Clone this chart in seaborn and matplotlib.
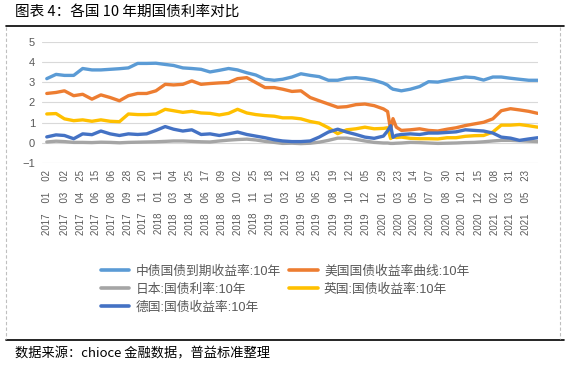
import pandas as pd
import matplotlib.pyplot as plt
import matplotlib.lines as mlines
import seaborn as sns

# === Data ===
dates = [
  "2017-01-01", "2017-02-01", "2017-03-01", "2017-04-01", "2017-05-01", "2017-06-01",
  "2017-07-01", "2017-08-01", "2017-09-01", "2017-10-01", "2017-11-01", "2017-12-01",
  "2018-01-01", "2018-02-01", "2018-03-01", "2018-04-01", "2018-05-01", "2018-06-01",
  "2018-07-01", "2018-08-01", "2018-09-01", "2018-10-01", "2018-11-01", "2018-12-01",
  "2019-01-01", "2019-02-01", "2019-03-01", "2019-04-01", "2019-05-01", "2019-06-01",
  "2019-07-01", "2019-08-01", "2019-09-01", "2019-10-01", "2019-11-01", "2019-12-01",
  "2020-01-01", "2020-02-01", "2020-02-15", "2020-02-25", "2020-03-04", "2020-03-15",
  "2020-04-01", "2020-05-01", "2020-06-01", "2020-07-01", "2020-08-01", "2020-09-01",
  "2020-10-01", "2020-11-01", "2020-12-01", "2021-01-01", "2021-02-01", "2021-03-01",
  "2021-04-01", "2021-05-01", "2021-06-01", "2021-07-01",
]

china = [
  3.17, 3.38, 3.33, 3.33, 3.67, 3.60, 3.60, 3.63, 3.66, 3.70, 3.92, 3.92,
  3.93, 3.87, 3.82, 3.70, 3.67, 3.63, 3.50, 3.58, 3.67, 3.60, 3.46, 3.35,
  3.14, 3.09, 3.14, 3.25, 3.41, 3.33, 3.27, 3.09, 3.09, 3.19, 3.22, 3.17,
  3.09, 2.95, 2.85, 2.72, 2.65, 2.62, 2.57, 2.65, 2.78, 3.02, 3.00, 3.09,
  3.17, 3.25, 3.22, 3.10, 3.25, 3.25, 3.19, 3.14, 3.09, 3.09,
]
usa = [
  2.44, 2.49, 2.57, 2.33, 2.40, 2.16, 2.37, 2.24, 2.08, 2.33, 2.44, 2.44,
  2.57, 2.89, 2.86, 2.89, 3.06, 2.89, 2.93, 2.96, 2.98, 3.17, 3.22, 2.98,
  2.73, 2.73, 2.65, 2.54, 2.57, 2.24, 2.08, 1.92, 1.76, 1.79, 1.89, 1.92,
  1.84, 1.68, 1.55, 0.65, 1.20, 0.78, 0.62, 0.65, 0.70, 0.62, 0.59, 0.68,
  0.75, 0.86, 0.94, 1.02, 1.19, 1.59, 1.69, 1.63, 1.56, 1.46,
]
japan = [
  0.05, 0.09, 0.07, 0.03, 0.03, 0.02, 0.04, 0.03, 0.01, 0.03, 0.04, 0.05,
  0.06, 0.08, 0.10, 0.10, 0.08, 0.06, 0.05, 0.10, 0.14, 0.17, 0.19, 0.15,
  0.08, 0.03, -0.02, -0.01, -0.03, -0.01, 0.04, 0.13, 0.24, 0.24, 0.18, 0.10,
  0.03, 0.00, 0.00, -0.02, -0.02, -0.01, 0.00, 0.03, 0.02, 0.00, -0.02, -0.01,
  0.00, 0.02, 0.03, 0.06, 0.10, 0.13, 0.13, 0.11, 0.09, 0.07,
]
uk = [
  1.43, 1.45, 1.19, 1.10, 1.14, 1.07, 1.14, 1.07, 1.05, 1.43, 1.40, 1.40,
  1.43, 1.66, 1.59, 1.51, 1.56, 1.48, 1.46, 1.38, 1.46, 1.66, 1.48, 1.40,
  1.35, 1.32, 1.24, 1.24, 1.19, 1.06, 0.98, 0.75, 0.46, 0.65, 0.70, 0.78,
  0.70, 0.72, 0.75, 0.22, 0.30, 0.27, 0.29, 0.23, 0.21, 0.21, 0.20, 0.26,
  0.26, 0.33, 0.36, 0.37, 0.54, 0.88, 0.88, 0.91, 0.85, 0.78,
]
germany = [
  0.30, 0.40, 0.37, 0.21, 0.45, 0.41, 0.59, 0.45, 0.37, 0.45, 0.42, 0.45,
  0.62, 0.81, 0.68, 0.59, 0.65, 0.42, 0.45, 0.37, 0.45, 0.54, 0.42, 0.34,
  0.26, 0.16, 0.10, 0.07, 0.07, 0.10, 0.29, 0.54, 0.68, 0.54, 0.42, 0.29,
  0.23, 0.34, 0.60, 0.85, 0.28, 0.38, 0.42, 0.45, 0.42, 0.49, 0.49, 0.52,
  0.55, 0.65, 0.62, 0.59, 0.49, 0.29, 0.24, 0.13, 0.20, 0.26,
]

series_names = [
  "中债国债到期收益率:10年",
  "美国国债收益率曲线:10年",
  "日本:国债利率:10年",
  "英国:国债收益率:10年",
  "德国:国债收益率:10年",
]
series_values = [china, usa, japan, uk, germany]
colors = ["#5B9BD5", "#ED7D31", "#A5A5A5", "#FFC000", "#4472C4"]

tick_dates = [
  "2017-01-02", "2017-03-02", "2017-04-25", "2017-06-15", "2017-08-06", "2017-09-28",
  "2017-11-20", "2018-01-11", "2018-03-04", "2018-04-25", "2018-06-17", "2018-08-09",
  "2018-10-02", "2018-11-25", "2019-01-18", "2019-03-12", "2019-05-03", "2019-06-25",
  "2019-08-19", "2019-10-12", "2019-12-05", "2020-01-29", "2020-03-23", "2020-05-14",
  "2020-07-07", "2020-08-30", "2020-10-21", "2020-12-15", "2021-02-08", "2021-03-31",
  "2021-05-23",
]
y_ticks = [-1, 0, 1, 2, 3, 4, 5]

title = "图表 4：各国 10 年期国债利率对比"
source = "数据来源：chioce 金融数据，普益标准整理"

# === Style ===
sns.set_theme(style="white")
plt.rcParams['font.family'] = ['Liberation Sans', 'Noto Sans CJK SC', 'DejaVu Sans']
plt.rcParams['axes.unicode_minus'] = True

W, H = 570, 365
fig = plt.figure(figsize=(W / 100, H / 100), dpi=100)
ax = fig.add_axes([42 / W, 1 - 163.3 / H, (538 - 42) / W, (163.3 - 41.5) / H])

x = pd.to_datetime(dates)
handles = []
for name, vals, col in zip(series_names, series_values, colors):
  df = pd.DataFrame({"date": x, "value": vals})
  sns.lineplot(data=df, x="date", y="value", color=col, linewidth=2.4,
               ax=ax, legend=False)
  handles.append(mlines.Line2D([], [], color=col, linewidth=2.6, label=name))

ax.set_xlim(pd.Timestamp("2016-12-16"), pd.Timestamp("2021-07-02"))
ax.set_ylim(-1, 5)
ax.set_yticks(y_ticks)
ax.set_yticklabels([f"{t}".replace("-", "\u2212") for t in y_ticks])
ax.set_xticks(pd.to_datetime(tick_dates))
ax.set_xticklabels([d.replace("-", "    ") for d in tick_dates], rotation=90,
                   va="top", ha="center")
ax.tick_params(axis="x", length=0, pad=5, labelsize=7, labelcolor="#595959")
ax.tick_params(axis="y", length=0, pad=5, labelsize=8, labelcolor="#595959")
ax.set_xlabel("")
ax.set_ylabel("")
ax.grid(axis="y", color="#D9D9D9", linewidth=0.8)
ax.grid(axis="x", visible=False)
for s in ax.spines.values():
  s.set_visible(False)

# legend: row-wise order as in the picture (matplotlib fills columns first)
order = [0, 2, 4, 1, 3]
leg = fig.legend([handles[i] for i in order], [series_names[i] for i in order],
                 loc="upper center", bbox_to_anchor=(285 / W, 1 - 254 / H),
                 ncol=2, frameon=False, fontsize=9.2, handlelength=2.2,
                 handletextpad=0.5, columnspacing=0.7, labelspacing=0.45)
for t in leg.get_texts():
  t.set_color("#595959")

# frame, title and source
fig.add_artist(mlines.Line2D([6 / W, 564 / W], [1 - 26 / H, 1 - 26 / H],
                             color="black", linewidth=1.2))
fig.add_artist(mlines.Line2D([6 / W, 564 / W], [1 - 340 / H, 1 - 340 / H],
                             color="black", linewidth=1.2))
for xx in (6, 560):
  fig.add_artist(mlines.Line2D([xx / W, xx / W], [1 - 27 / H, 1 - 339 / H],
                               color="#BFBFBF", linewidth=0.8, linestyle=(0, (3, 2))))

fig.text(15 / W, 1 - 12 / H, title, ha="left", va="center", fontsize=10.5,
         color="black", family=['Noto Sans CJK SC', 'DejaVu Sans'])
fig.text(15 / W, 1 - 354 / H, source, ha="left", va="center", fontsize=9.5,
         color="black", family=['Noto Sans CJK SC', 'DejaVu Sans'])

fig.savefig("out.png", dpi=100)
plt.close(fig)
